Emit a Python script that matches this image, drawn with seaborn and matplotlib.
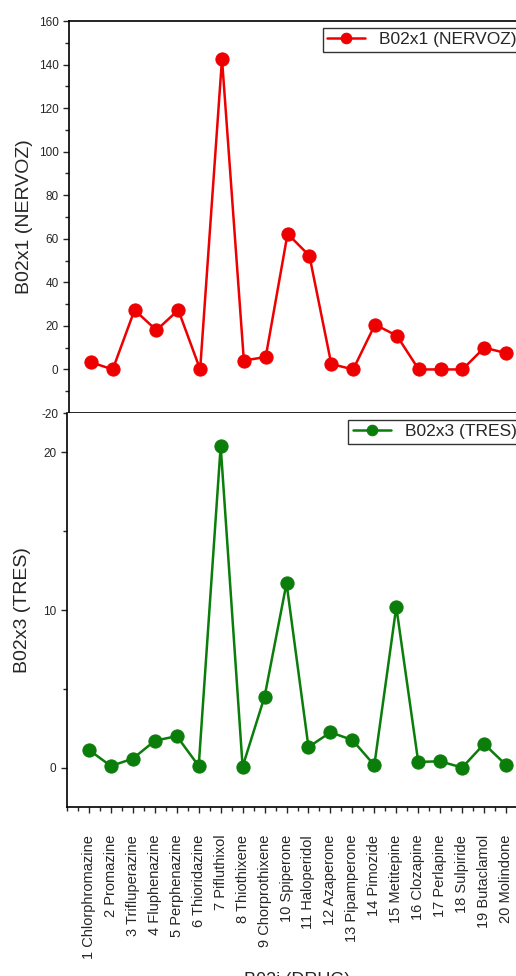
import matplotlib
matplotlib.use("Agg")
import matplotlib.pyplot as plt
import seaborn as sns
from matplotlib.ticker import MultipleLocator, FixedLocator

# Data
drug_idx = list(range(1, 21))
drug_names = ["1 Chlorphromazine", "2 Promazine", "3 Trifluperazine", "4 Fluphenazine",
              "5 Perphenazine", "6 Thioridazine", "7 Pifluthixol", "8 Thiothixene",
              "9 Chorprothixene", "10 Spiperone", "11 Haloperidol", "12 Azaperone",
              "13 Pipamperone", "14 Pimozide", "15 Metitepine", "16 Clozapine",
              "17 Perlapine", "18 Sulpiride", "19 Butaclamol", "20 Molindone"]
nervoz = [3.3, 0, 27.3, 18, 27.3, 0, 142.6, 4.1, 5.7, 62.3,
          52.2, 2.5, 0, 20.6, 15.5, 0, 0, 0, 10, 7.5]
tres = [1.12, 0.1, 0.57, 1.7, 2.0, 0.1, 20.4, 0.06, 4.5, 11.7,
        1.3, 2.24, 1.75, 0.15, 10.2, 0.36, 0.4, 0.0, 1.5, 0.17]

sns.set_style("ticks")
plt.rcParams['font.family'] = ['Liberation Sans', 'DejaVu Sans']
plt.rcParams['axes.unicode_minus'] = False

W, H = 516, 976
fig = plt.figure(figsize=(W / 100, H / 100), dpi=100)

def px_axes(left, top, right, bottom):
    return fig.add_axes([left / W, 1 - bottom / H, (right - left) / W, (bottom - top) / H])

ax1 = px_axes(69, 21, 528, 413)
ax2 = px_axes(67, 413, 528, 807)

red = "#ee0000"
green = "#0a7d0a"

sns.lineplot(x=drug_idx, y=nervoz, ax=ax1, color=red, marker="o", markersize=9.5,
             markeredgecolor=red, linewidth=1.8, label="B02x1 (NERVOZ)")
sns.lineplot(x=drug_idx, y=tres, ax=ax2, color=green, marker="o", markersize=9.5,
             markeredgecolor=green, linewidth=1.8, label="B02x3 (TRES)")

for ax in (ax1, ax2):
    ax.set_xlim(0, 21)
    for s in ax.spines.values():
        s.set_linewidth(1.2)
        s.set_color("black")
    ax.tick_params(axis="y", which="major", length=4, width=1, labelsize=8.5, direction="out")
    ax.tick_params(axis="y", which="minor", length=3, width=1, direction="out")
    leg = ax.legend(loc="upper right", frameon=True, fancybox=False, fontsize=12.5,
                    borderaxespad=0.4, handlelength=2.2, borderpad=0.25, markerscale=0.8)
    leg.get_frame().set_edgecolor("black")
    leg.get_frame().set_linewidth(1.0)

# top panel
ax1.set_ylim(-20, 160)
ax1.yaxis.set_major_locator(MultipleLocator(20))
ax1.yaxis.set_minor_locator(MultipleLocator(10))
ax1.tick_params(axis="x", which="both", bottom=False, labelbottom=False)
ax1.set_ylabel("B02x1 (NERVOZ)", fontsize=14, labelpad=4)
ax1.set_xlabel("")

# bottom panel
ax2.set_ylim(-2.5, 22.5)
ax2.yaxis.set_major_locator(MultipleLocator(10))
ax2.yaxis.set_minor_locator(MultipleLocator(5))
ax2.spines["top"].set_visible(False)
ax2.xaxis.set_major_locator(FixedLocator(drug_idx))
ax2.xaxis.set_minor_locator(MultipleLocator(0.5))
ax2.set_xticklabels(drug_names, rotation=90, fontsize=10.5)
ax2.tick_params(axis="x", which="major", length=4, width=1, pad=16)
ax2.tick_params(axis="x", which="minor", length=3, width=1)
ax2.set_ylabel("B02x3 (TRES)", fontsize=14, labelpad=9)
ax2.set_xlabel("B02i (DRUG)", fontsize=13)
ax2.xaxis.set_label_coords(0.5, -0.418)

plt.savefig("out.png", dpi=100)
